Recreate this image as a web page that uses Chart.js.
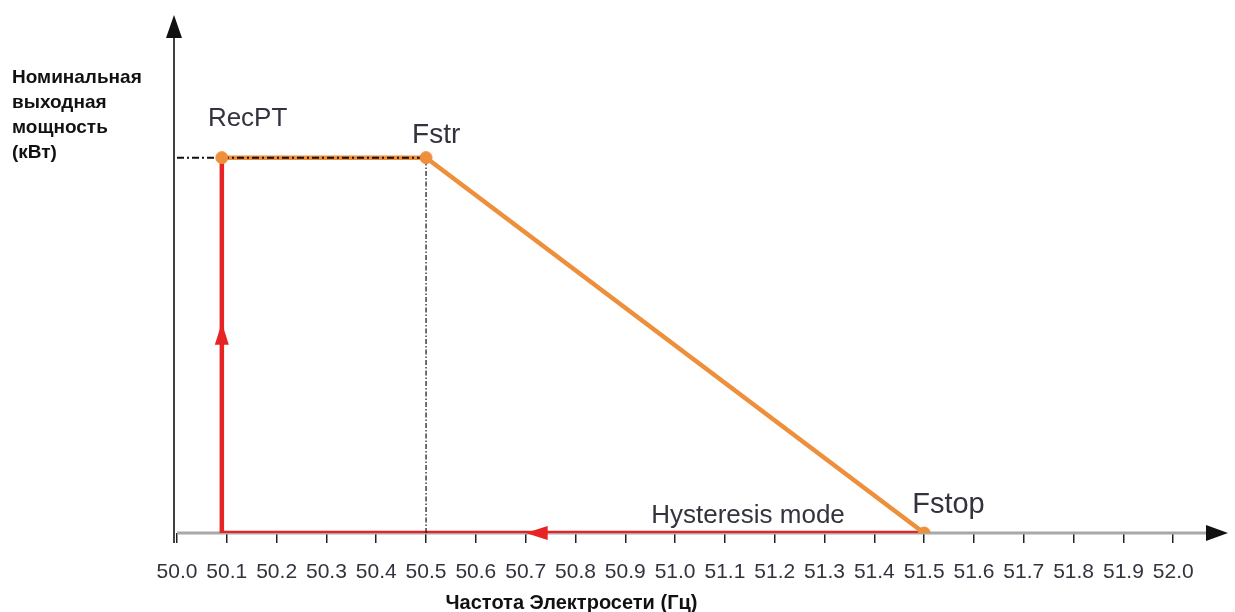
<!DOCTYPE html>
<html><head><meta charset="utf-8">
<script src="https://cdn.jsdelivr.net/npm/chart.js@4/dist/chart.umd.min.js"></script>
<style>html,body{margin:0;padding:0;background:#fff;}canvas{display:block;}</style>
</head><body>
<canvas id="c" width="1235" height="612"></canvas>
<script>
const xTickValues = [50.0,50.1,50.2,50.3,50.4,50.5,50.6,50.7,50.8,50.9,51.0,51.1,51.2,51.3,51.4,51.5,51.6,51.7,51.8,51.9,52.0];
const curveX = [50.09, 50.5, 51.5];          // RecPT, Fstr, Fstop
const curveY = [1, 1, 0];
const hystX = [51.5, 50.09, 50.09];
const hystY = [0, 0, 1];
const refHX = [50.0, 50.5];
const refHY = [1, 1];
const refVX = [50.5, 50.5];
const refVY = [0, 1];
const upArrow = {x: 50.09, y: 0.56};
const leftArrow = {x: 50.70, y: 0};
const annotations = [
  {text: 'RecPT', x: 50.062, y: 1.083, size: 26},
  {text: 'Fstr', x: 50.472, y: 1.04, size: 28},
  {text: 'Fstop', x: 51.476, y: 0.053, size: 29},
  {text: 'Hysteresis mode', x: 50.952, y: 0.027, size: 26}
];
const yTitleLines = ['Номинальная', 'выходная', 'мощность', '(кВт)'];
const xTitle = 'Частота Электросети (Гц)';

const ORANGE = '#EE8F3C', RED = '#E82323', TXT = '#33333d';
const pts = (xs, ys) => xs.map((x, i) => ({x, y: ys[i]}));

const deco = {
  id: 'deco',
  beforeDatasetsDraw(chart) {
    const {ctx, scales: {x, y}} = chart;
    ctx.save();
    ctx.strokeStyle = '#a8a8a8'; ctx.lineWidth = 3;
    ctx.beginPath(); ctx.moveTo(x.getPixelForValue(50.0), y.getPixelForValue(0));
    ctx.lineTo(x.getPixelForValue(x.max) - 15, y.getPixelForValue(0)); ctx.stroke();
    ctx.strokeStyle = '#111'; ctx.lineWidth = 1.6;
    const x0 = x.getPixelForValue(50.0) - 3;
    ctx.beginPath(); ctx.moveTo(x0, y.getPixelForValue(0) + 10); ctx.lineTo(x0, y.getPixelForValue(y.max) + 15); ctx.stroke();
    ctx.restore();
  },
  afterDatasetsDraw(chart) {
    const {ctx, scales: {x, y}} = chart;
    ctx.save();
    ctx.fillStyle = '#111';
    const x0 = x.getPixelForValue(50.0) - 3, yt = y.getPixelForValue(y.max);
    ctx.beginPath(); ctx.moveTo(x0, yt); ctx.lineTo(x0 - 8, yt + 23); ctx.lineTo(x0 + 8, yt + 23); ctx.closePath(); ctx.fill();
    const xr = x.getPixelForValue(x.max), y0 = y.getPixelForValue(0);
    ctx.beginPath(); ctx.moveTo(xr, y0); ctx.lineTo(xr - 22, y0 - 8); ctx.lineTo(xr - 22, y0 + 8); ctx.closePath(); ctx.fill();
    ctx.fillStyle = RED;
    let px = x.getPixelForValue(upArrow.x), py = y.getPixelForValue(upArrow.y);
    ctx.beginPath(); ctx.moveTo(px, py); ctx.lineTo(px - 7, py + 22); ctx.lineTo(px + 7, py + 22); ctx.closePath(); ctx.fill();
    px = x.getPixelForValue(leftArrow.x); py = y.getPixelForValue(leftArrow.y);
    ctx.beginPath(); ctx.moveTo(px, py); ctx.lineTo(px + 22, py - 7); ctx.lineTo(px + 22, py + 7); ctx.closePath(); ctx.fill();
    ctx.fillStyle = TXT; ctx.textBaseline = 'alphabetic'; ctx.textAlign = 'left';
    annotations.forEach(a => {
      ctx.font = a.size + 'px "Liberation Sans", Arial, sans-serif';
      ctx.fillText(a.text, x.getPixelForValue(a.x), y.getPixelForValue(a.y));
    });
    ctx.fillStyle = '#111';
    ctx.font = 'bold 19px "Liberation Sans", Arial, sans-serif';
    ctx.textBaseline = 'middle';
    yTitleLines.forEach((t, i) => ctx.fillText(t, 12, 78 + i * 25));
    ctx.font = 'bold 20px "Liberation Sans", Arial, sans-serif';
    ctx.textAlign = 'center';
    ctx.fillText(xTitle, (x.getPixelForValue(50.0) + x.getPixelForValue(51.6)) / 2 - 4, 603);
    ctx.restore();
  }
};

new Chart(document.getElementById('c'), {
  type: 'scatter',
  data: {
    datasets: [
      {data: pts(curveX, curveY), showLine: false, pointRadius: 6, pointHoverRadius: 6,
       pointBackgroundColor: ORANGE, pointBorderColor: ORANGE, order: 0},
      {data: pts(refHX, refHY), showLine: true, pointRadius: 0, borderColor: '#111', borderWidth: 2,
       borderDash: [7, 3, 2, 3], order: 1},
      {data: pts(refVX, refVY), showLine: true, pointRadius: 0, borderColor: '#111', borderWidth: 1.2,
       borderDash: [5, 2, 1.5, 2], order: 1},
      {data: pts(curveX, curveY), showLine: true, pointRadius: 0, borderColor: ORANGE, borderWidth: 4.5, order: 2},
      {data: pts(hystX, hystY), showLine: true, pointRadius: 0, borderColor: RED, borderWidth: 4.5, order: 3}
    ]
  },
  options: {
    responsive: false, animation: false,
    layout: {padding: {left: 177, right: 3, top: 15, bottom: 0}},
    plugins: {legend: {display: false}, tooltip: {enabled: false}},
    scales: {
      x: {
        type: 'linear', min: 50.0, max: 52.11,
        afterBuildTicks: s => { s.ticks = xTickValues.map(v => ({value: v})); },
        afterFit: s => { s.height = 79; },
        grid: {drawOnChartArea: false, drawTicks: true, tickLength: 10, color: '#222', lineWidth: 1.5},
        border: {display: false},
        ticks: {autoSkip: false, maxRotation: 0, padding: 17, color: TXT,
                font: {size: 21, family: '"Liberation Sans", Arial, sans-serif'},
                callback: v => Number(v).toFixed(1)}
      },
      y: {type: 'linear', min: 0, max: 1.38, display: false}
    }
  },
  plugins: [deco]
});
</script>
</body></html>
